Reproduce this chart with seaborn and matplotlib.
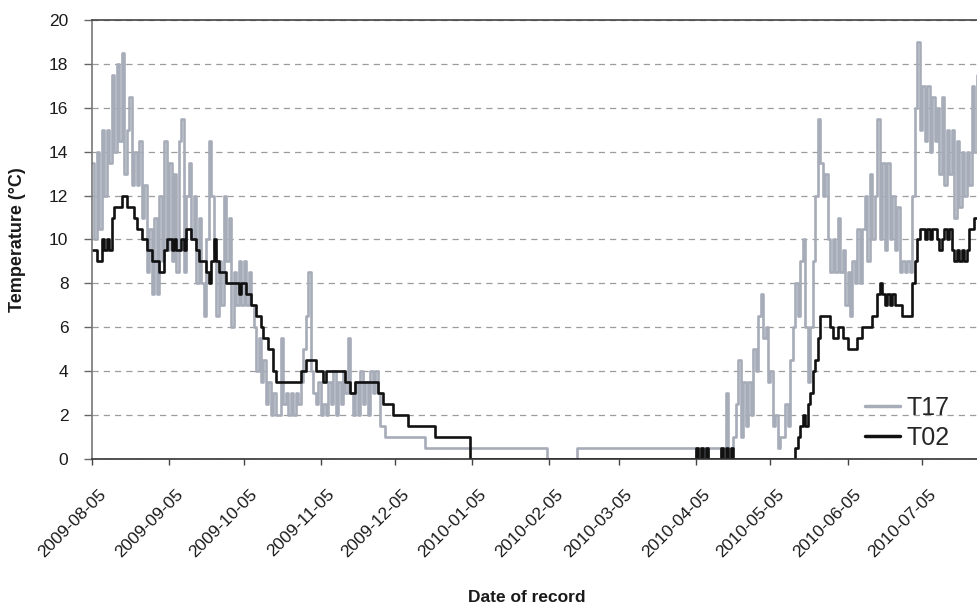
import matplotlib
matplotlib.use("Agg")
import matplotlib.pyplot as plt
import matplotlib.dates as mdates
from matplotlib.transforms import ScaledTranslation
import numpy as np
import pandas as pd
import seaborn as sns

# ---------------- data (daily readings) ----------------
START_DATE = "2009-08-05"
SERIES = ["T17", "T02"]

T17 = (
    [13.5, 10.0, 14.0, 10.5, 15.0, 12.0, 15.0, 13.5, 17.5, 14.0,
     18.0, 14.5, 18.5, 13.0, 15.0, 16.5, 12.5, 14.0, 12.5, 14.5,
     11.0, 12.5, 8.5, 10.5, 7.5, 11.0, 7.5, 12.0, 9.0, 14.5,
     9.5, 13.5, 9.0, 13.0, 8.5, 14.5, 15.5, 8.5, 12.0, 13.5,
     10.0, 12.0, 8.0, 11.0, 8.0, 6.5, 10.0, 14.5, 12.0, 9.5,
     6.5, 9.0, 7.0, 12.0, 9.0, 11.0, 6.0, 8.5, 7.0, 9.0,
     7.0, 9.0, 7.0, 8.5, 7.0, 6.0, 4.0, 5.5, 3.5, 4.5,
     2.5, 3.5, 2.0, 3.0, 2.0, 2.0, 5.5, 2.5, 3.0, 2.0,
     3.0, 2.0, 3.0, 2.5, 3.5, 5.0, 6.5, 8.5, 4.0, 3.0,
     2.5, 3.5, 2.0, 2.5, 2.0, 3.5, 2.5, 4.0, 2.0, 3.5,
     2.5, 4.0, 3.0, 5.5, 3.0, 2.0, 3.5, 2.0, 4.0, 2.5,
     3.5, 2.0, 4.0, 3.0, 4.0, 3.0, 1.5, 1.5, 1.0]
    + [1.0] * 15
    + [0.5] * 49
    + [0.0] * 12
    + [0.5] * 48
    + [0.0, 0.5, 0.0, 0.5, 0.0, 0.5, 0.5, 0.5, 0.5, 0.5, 0.0, 0.5, 3.0, 0.0, 0.5]
    + [1.0, 2.5, 4.5, 1.0, 3.5, 1.5, 3.5, 2.0, 5.0, 4.0,
       6.5, 7.5, 5.5, 6.0, 3.5, 4.0, 1.5, 2.0, 0.5, 1.0,
       1.0, 2.5, 1.5, 4.5, 6.0, 8.0, 6.5, 9.0, 10.0, 6.0,
       3.5, 6.0, 9.0, 12.0, 15.5, 13.5, 12.0, 13.0, 10.0, 8.5,
       10.0, 8.5, 11.0, 8.5, 9.5, 7.0, 8.5, 6.5, 9.0, 8.0,
       10.5, 8.0, 10.5, 12.0, 9.0, 13.0, 10.0, 12.0, 15.5, 10.0,
       13.5, 9.5, 13.5, 10.0, 12.0, 9.5, 11.5, 8.5, 9.0, 8.5,
       9.0, 8.5, 12.0, 16.0, 19.0, 15.0, 17.0, 14.5, 17.0, 14.0,
       16.5, 14.5, 16.0, 13.0, 16.5, 12.5, 15.0, 13.0, 15.0, 11.0,
       14.5, 11.5, 14.0, 12.0, 14.0, 12.5, 17.0, 14.0, 17.5]
)

T02 = (
    [9.5, 9.5, 9.0, 9.0, 10.0, 9.5, 10.0, 9.5, 11.0, 11.5,
     11.5, 11.5, 12.0, 12.0, 11.5, 11.5, 11.5, 11.0, 10.5, 10.5,
     10.0, 10.0, 9.5, 9.5, 9.0, 9.0, 9.0, 8.5, 8.5, 9.5,
     10.0, 10.0, 9.5, 10.0, 9.5, 9.5, 10.0, 9.5, 10.5, 10.5,
     10.0, 10.0, 9.5, 9.0, 9.0, 9.0, 8.5, 8.0, 9.0, 10.0,
     9.0, 8.5, 8.5, 8.5, 8.0, 8.0, 8.0, 8.0, 8.0, 7.5,
     8.0, 8.0, 7.5, 7.5, 7.0, 7.0, 6.5, 6.5, 6.0, 5.5,
     5.5, 5.0, 5.0, 4.0, 3.5, 3.5, 3.5, 3.5, 3.5, 3.5,
     3.5, 3.5, 3.5, 3.5, 4.0, 4.0, 4.5, 4.5, 4.5, 4.5,
     4.0, 4.0, 4.0, 3.5, 4.0, 4.0, 4.0, 4.0, 4.0, 4.0,
     4.0, 4.0, 3.5, 3.5, 3.0, 3.0, 3.5, 3.5, 3.5, 3.5,
     3.5, 3.5, 3.5, 3.5, 3.5, 3.0, 3.0, 2.5, 2.5, 2.5,
     2.5, 2.0, 2.0, 2.0, 2.0, 2.0, 2.0]
    + [1.5] * 11
    + [1.0] * 14
    + [0.0] * 91
    + [0.5, 0.0, 0.5, 0.0, 0.5, 0.0, 0.0, 0.0, 0.0, 0.0, 0.5, 0.0, 0.5, 0.0, 0.5]
    + [0.0] * 25
    + [0.5, 1.0, 1.5, 2.0, 1.5, 2.5, 3.0, 4.0, 4.5, 5.5,
       6.5, 6.5, 6.5, 6.5, 6.0, 5.5, 5.5, 6.0, 6.0, 5.5,
       5.5, 5.0, 5.0, 5.0, 5.0, 5.5, 5.5, 6.0, 6.0, 6.0,
       6.0, 6.5, 6.5, 7.5, 8.0, 7.5, 7.0, 7.5, 7.0, 7.5,
       7.0, 7.0, 7.0, 6.5, 6.5, 6.5, 6.5, 8.0, 9.0, 10.0,
       10.5, 10.5, 10.0, 10.5, 10.0, 10.5, 10.5, 10.0, 9.5, 10.0,
       10.5, 10.0, 10.5, 9.5, 9.0, 9.5, 9.0, 9.5, 9.0, 9.5,
       10.5, 10.5, 11.0, 11.0]
)

Y_TICKS = [0, 2, 4, 6, 8, 10, 12, 14, 16, 18, 20]
X_LABEL = "Date of record"
Y_LABEL = "Temperature (°C)"
COLORS = {"T17": "#a7acb9", "T02": "#111111"}

# ---------------- figure ----------------
sns.set_theme(style="white")
plt.rcParams["font.family"] = ["Liberation Sans", "DejaVu Sans"]

dates = pd.date_range(START_DATE, periods=len(T17), freq="D")
df = pd.DataFrame({"date": dates, "T17": T17, "T02": T02}).melt(
    "date", var_name="sensor", value_name="temp")

fig = plt.figure(figsize=(9.78, 6.10), dpi=100)
ax = fig.add_axes([92 / 978, 1 - 459 / 610, 886 / 978, 439 / 610])
ax.set_axisbelow(True)
ax.yaxis.grid(True, linestyle=(0, (5, 4)), color="#9c9c9c", lw=0.9)
ax.xaxis.grid(False)

sns.lineplot(data=df, x="date", y="temp", hue="sensor", hue_order=SERIES,
             palette=COLORS, drawstyle="steps-post", lw=1.9,
             errorbar=None, ax=ax)

ax.set_ylim(0, 20)
ax.set_yticks(Y_TICKS)
ax.set_xlim(pd.Timestamp(START_DATE), pd.Timestamp(START_DATE) + pd.Timedelta(days=356.5))
ax.xaxis.set_major_locator(mdates.MonthLocator(bymonthday=5))
ax.xaxis.set_major_formatter(mdates.DateFormatter("%Y-%m-%d"))

ax.tick_params(axis="y", left=True, length=6, width=1, color="#666666",
               pad=11, labelsize=12.5, labelcolor="#1a1a1a")
ax.tick_params(axis="x", bottom=True, length=4, width=1, color="#444444",
               pad=16, labelsize=12.5, labelcolor="#1a1a1a")
offset = ScaledTranslation(6 / 100, 0, fig.dpi_scale_trans)
for lab in ax.get_xticklabels():
    lab.set_rotation(45)
    lab.set_ha("right")
    lab.set_va("top")
    lab.set_rotation_mode("anchor")
    lab.set_transform(lab.get_transform() + offset)

for side in ["left", "bottom", "top"]:
    ax.spines[side].set_visible(True)
    ax.spines[side].set_linewidth(1.2)
ax.spines["left"].set_color("#777777")
ax.spines["bottom"].set_color("#333333")
ax.spines["top"].set_color("#444444")
ax.spines["right"].set_visible(False)

ax.set_xlabel(X_LABEL, fontsize=12.5, fontweight="bold", color="#1a1a1a")
ax.set_ylabel(Y_LABEL, fontsize=13, fontweight="bold", color="#1a1a1a")
ax.xaxis.set_label_coords(0.491, -0.298)
ax.yaxis.set_label_coords(-0.0745, 0.5)

handles, labels = ax.get_legend_handles_labels()
leg = ax.legend(handles, labels, loc="lower right", bbox_to_anchor=(0.968, 0.02),
                frameon=False, fontsize=18, handlelength=1.4, handletextpad=0.28,
                labelspacing=0.25, borderpad=0, borderaxespad=0)
for h in leg.get_lines():
    h.set_linewidth(2.5)

fig.savefig("out.png", dpi=100, facecolor="white")
